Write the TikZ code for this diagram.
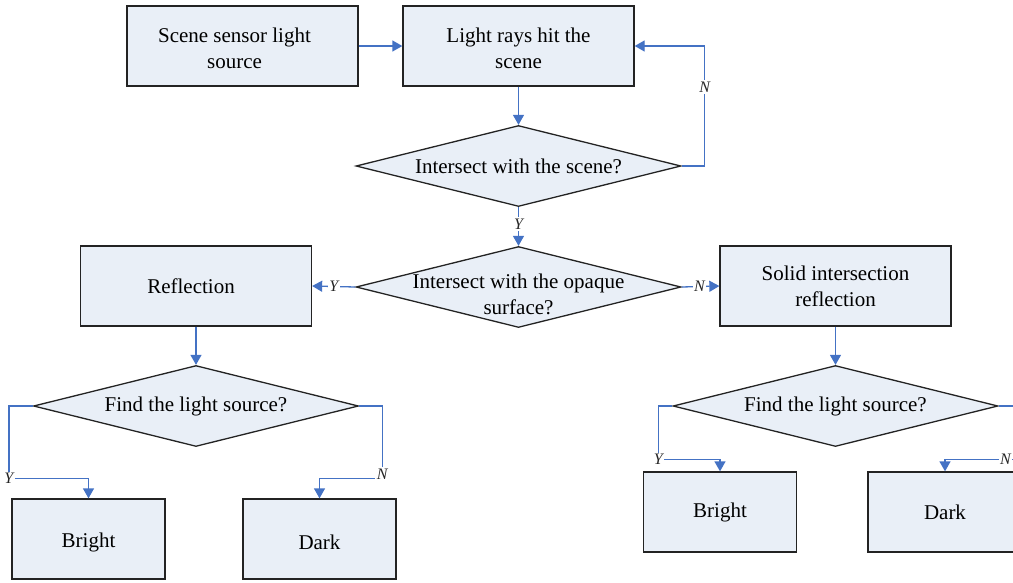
\documentclass[tikz,border=0pt]{standalone}
\usepackage{fontspec}
\setmainfont{Liberation Serif}
\usetikzlibrary{shapes.geometric,arrows.meta,calc}
\definecolor{boxfill}{RGB}{233,239,247}
\definecolor{boxline}{RGB}{35,35,35}
\definecolor{flow}{RGB}{68,114,196}
\begin{document}
\begin{tikzpicture}[x=1pt,y=-1pt,
  every node/.style={font=\fontsize{21}{26}\selectfont},
  stepbox/.style={draw=boxline,fill=boxfill,line width=1.3pt,minimum width=231pt,minimum height=80pt,inner sep=0pt,align=center},
  endbox/.style={stepbox,minimum width=153pt},
  decision/.style={diamond,draw=boxline,fill=boxfill,line width=1.3pt,minimum width=325pt,minimum height=81pt,inner sep=0pt},
  conn/.style={draw=flow,line width=1.3pt,-{Triangle[length=10pt,width=11pt]}},
  lbl/.style={fill=white,inner sep=1.5pt,font=\fontsize{16}{16}\selectfont\itshape,text=black!85}]
\useasboundingbox (0,0) rectangle (1013,582);
\clip (0,0) rectangle (1013,582);

% process boxes
\node[stepbox] (src) at (242.5,46) {};
\node[align=center] at ($(src)+(-8,2)$) {Scene sensor light\\source};
\node[stepbox] (rays) at (518.5,46) {};
\node[align=center] at ($(rays)+(0,2)$) {Light rays hit the\\scene};
\node[stepbox] (refl) at (196,286) {};
\node at ($(refl)+(-5,0)$) {Reflection};
\node[stepbox] (solid) at (835.5,286) {Solid intersection\\reflection};

% decisions
\node[decision] (d1) at (518.5,166) {};
\node at (d1) {Intersect with the scene?};
\node[decision] (d2) at (518.5,287) {};
\node at ($(d2)+(0,7)$) [align=center] {Intersect with the opaque\\surface?};
\node[decision] (d3) at (196,406) {};
\node at (d3) {Find the light source?};
\node[decision] (d4) at (835.5,406) {};
\node at (d4) {Find the light source?};

% results
\node[endbox] (b1) at (88.5,539) {};
\node at ($(b1)+(0,3)$) {Bright};
\node[endbox] (k1) at (319.5,539) {};
\node at ($(k1)+(0,3)$) {Dark};
\node[endbox] (b2) at (720,512) {Bright};
\node[endbox,minimum width=154pt] (k2) at (945,512) {Dark};

% connectors
\draw[conn] (src.east) -- (rays.west);
\draw[conn] (rays.south) -- (d1.north);
\draw[conn] (d1.east) -- ++(23,0) |- node[lbl,pos=0.33] {N} (rays.east);
\draw[conn] (d1.south) -- node[lbl,pos=0.43] {Y} (d2.north);
\draw[conn] (d2.west) -- node[lbl,pos=0.5] {Y} (refl.east);
\draw[conn] (d2.east) -- node[lbl,pos=0.47] {N} (solid.west);
\draw[conn] (refl.south) -- (d3.north);
\draw[conn] (solid.south) -- (d4.north);
\draw[conn] (d3.west) -- ++(-24,0) |- node[lbl,pos=0.5] {Y} ($(b1.north)+(0,-20)$) -- (b1.north);
\draw[conn] (d3.east) -- ++(23,0) |- node[lbl,pos=0.47] {N} ($(k1.north)+(0,-20)$) -- (k1.north);
\draw[conn] (d4.west) -- ++(-14,0) |- node[lbl,pos=0.5] {Y} ($(b2.north)+(0,-12)$) -- (b2.north);
\draw[conn] (d4.east) -- ++(22,0) |- node[lbl,pos=0.6] {N} ($(k2.north)+(0,-12)$) -- (k2.north);
\end{tikzpicture}
\end{document}
